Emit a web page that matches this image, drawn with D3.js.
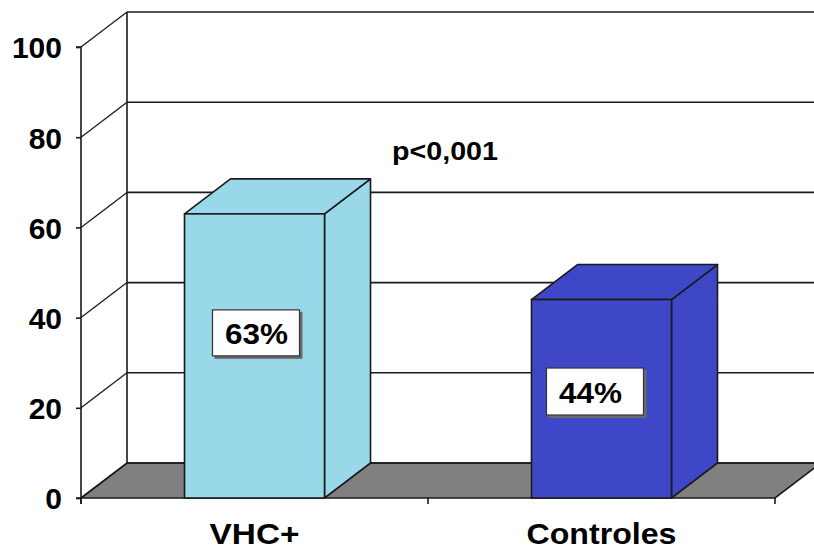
<!DOCTYPE html>
<html>
<head>
<meta charset="utf-8">
<script src="https://cdn.jsdelivr.net/npm/d3@7"></script>
<style>
  html, body { margin: 0; padding: 0; background: #fff; }
  svg { display: block; font-family: Arial, "Liberation Sans", sans-serif; font-weight: bold; }
</style>
</head>
<body>
<svg id="chart" width="814" height="551"></svg>
<script>
// ---- data ----
const categories = ["VHC+", "Controles"];
const values = [63, 44];
const valueLabels = ["63%", "44%"];
const barColors = ["#99d8e8", "#3f47c9"];
const yTicks = [0, 20, 40, 60, 80, 100];
const annotation = "p<0,001";

(function () {
// ---- layout ----
const pLeft = 81, pRight = 775, pBottom = 498, pTop = 47;
const DX = 46, DY = -35; // 3D depth offset
const svg = d3.select("#chart");

const y = d3.scaleLinear().domain([0, 100]).range([pBottom, pTop]);
const x = d3.scaleBand().domain(categories).range([pLeft, pRight])
  .paddingInner(0.5965).paddingOuter(0.2983);

const ink = "#1a1a1a";

// floor
const floorPts = [[pLeft, y(0)], [pRight, y(0)], [pRight + DX, y(0) + DY], [pLeft + DX, y(0) + DY]];
svg.append("polygon")
  .attr("points", floorPts.map(p => p.join(",")).join(" "))
  .attr("fill", "#808080").attr("stroke", ink).attr("stroke-width", 1.6);

// back wall gridlines
svg.append("g").selectAll("line").data(yTicks).join("line")
  .attr("x1", pLeft + DX).attr("x2", pRight + DX + 10)
  .attr("y1", d => y(d) + DY).attr("y2", d => y(d) + DY)
  .attr("stroke", ink).attr("stroke-width", 1.6);

// back wall vertical edge
svg.append("line")
  .attr("x1", pLeft + DX).attr("x2", pLeft + DX)
  .attr("y1", y(0) + DY).attr("y2", y(100) + DY)
  .attr("stroke", ink).attr("stroke-width", 1.6);

// side wall diagonals
svg.append("g").selectAll("line").data(yTicks).join("line")
  .attr("x1", pLeft).attr("y1", d => y(d))
  .attr("x2", pLeft + DX).attr("y2", d => y(d) + DY)
  .attr("stroke", ink).attr("stroke-width", 1.3);

// y axis
const yAxis = d3.axisLeft(y).tickValues(yTicks).tickSize(5).tickPadding(14).tickFormat(d3.format("d"));
const gy = svg.append("g").attr("transform", `translate(${pLeft},0)`).call(yAxis);
gy.select(".domain").attr("stroke", ink).attr("stroke-width", 1.6)
  .attr("d", `M-5,${y(0)}H0V${y(100)}H-5`);
gy.selectAll(".tick line").attr("stroke", ink).attr("stroke-width", 1.6);
gy.selectAll(".tick text").attr("fill", "#000").attr("font-size", 30)
  .attr("font-weight", "bold").attr("font-family", "Arial, 'Liberation Sans', sans-serif")
  .attr("dy", "0.36em");
svg.append("line").attr("x1", pLeft).attr("x2", pLeft).attr("y1", y(0)).attr("y2", y(0) + 6)
  .attr("stroke", ink).attr("stroke-width", 1.6);

// bars
const bars = svg.append("g").selectAll("g").data(categories).join("g");
bars.each(function(c, i) {
  const g = d3.select(this);
  const x0 = x(c), x1 = x(c) + x.bandwidth();
  const yt = y(values[i]), yb = y(0);
  const col = barColors[i];
  g.append("polygon")
    .attr("points", [[x1, yt], [x1 + DX, yt + DY], [x1 + DX, yb + DY], [x1, yb]].map(p => p.join(",")).join(" "))
    .attr("fill", col).attr("stroke", ink).attr("stroke-width", 1.6).attr("stroke-linejoin", "round");
  g.append("polygon")
    .attr("points", [[x0, yt], [x0 + DX, yt + DY], [x1 + DX, yt + DY], [x1, yt]].map(p => p.join(",")).join(" "))
    .attr("fill", col).attr("stroke", ink).attr("stroke-width", 1.6).attr("stroke-linejoin", "round");
  g.append("rect")
    .attr("x", x0).attr("y", yt).attr("width", x1 - x0).attr("height", yb - yt)
    .attr("fill", col).attr("stroke", ink).attr("stroke-width", 1.6);
});

// category ticks along front floor edge
const catTicks = [pLeft, (pLeft + pRight) / 2, pRight];
svg.append("g").selectAll("line").data(catTicks).join("line")
  .attr("x1", d => d).attr("x2", d => d).attr("y1", y(0)).attr("y2", y(0) + 6)
  .attr("stroke", ink).attr("stroke-width", 1.6);

// category labels
const catLabelWidth = [90, 150];
svg.append("g").selectAll("text").data(categories).join("text")
  .attr("x", (d) => x(d) + x.bandwidth() / 2)
  .attr("y", 544)
  .attr("text-anchor", "middle")
  .attr("font-size", 30)
  .attr("textLength", (d, i) => catLabelWidth[i])
  .attr("lengthAdjust", "spacingAndGlyphs")
  .text(d => d);

// value label boxes
const labelCenters = [{dx: 2, v: 36.5, w: 88, h: 47, tdx: 0}, {dx: -6, v: 23.5, w: 98, h: 48, tdx: -5}];
const lb = svg.append("g").selectAll("g").data(categories).join("g")
  .attr("transform", (d, i) => `translate(${x(d) + x.bandwidth() / 2 + labelCenters[i].dx},${y(labelCenters[i].v)})`);
lb.append("rect")
  .attr("x", (d, i) => -labelCenters[i].w / 2 + 2).attr("y", (d, i) => -labelCenters[i].h / 2 + 2)
  .attr("width", (d, i) => labelCenters[i].w).attr("height", (d, i) => labelCenters[i].h)
  .attr("fill", "#6b6b6b");
lb.append("rect")
  .attr("x", (d, i) => -labelCenters[i].w / 2).attr("y", (d, i) => -labelCenters[i].h / 2)
  .attr("width", (d, i) => labelCenters[i].w - 1).attr("height", (d, i) => labelCenters[i].h - 1)
  .attr("fill", "#fff").attr("stroke", "#333").attr("stroke-width", 1.2);
lb.append("text")
  .attr("x", (d, i) => labelCenters[i].tdx)
  .attr("y", 0).attr("dy", "0.36em")
  .attr("text-anchor", "middle").attr("font-size", 30)
  .attr("textLength", 63).attr("lengthAdjust", "spacingAndGlyphs")
  .text((d, i) => valueLabels[i]);

// annotation
svg.append("text")
  .attr("x", 445).attr("y", 160)
  .attr("text-anchor", "middle").attr("font-size", 26)
  .attr("textLength", 106).attr("lengthAdjust", "spacingAndGlyphs")
  .text(annotation);
})();
</script>
</body>
</html>
